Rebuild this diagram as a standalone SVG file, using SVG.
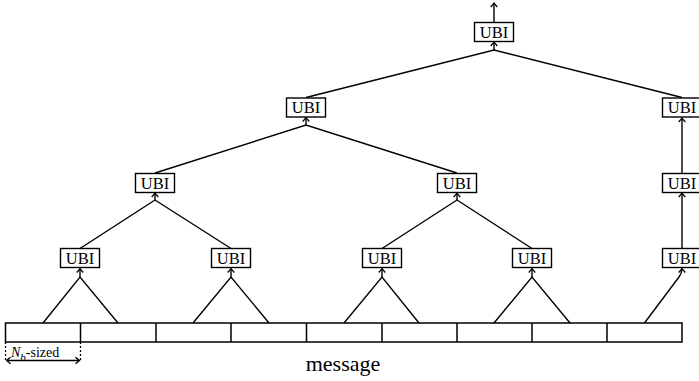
<svg xmlns="http://www.w3.org/2000/svg" width="699" height="381" viewBox="0 0 699 381">
<style>
.box{fill:#fff;stroke:#000;stroke-width:1.4}
.t{font-family:"Liberation Serif",serif;font-size:16.5px;text-anchor:middle;fill:#000}
.e{fill:none;stroke:#000;stroke-width:1.4}
.m{fill:none;stroke:#000;stroke-width:1.5}
</style>
<defs>
<marker id="ah" viewBox="-5 -4 6 8" refX="0" refY="0" markerWidth="6" markerHeight="8" markerUnits="userSpaceOnUse" orient="auto-start-reverse">
<path d="M-4,-3.3 Q-1.2,-0.8 0,0 Q-1.2,0.8 -4,3.3" fill="none" stroke="#000" stroke-width="1.3"/>
</marker>
</defs>
<g id="connectors">
<path class="e" d="M494,22 L494,3" marker-end="url(#ah)"/>
<path class="e" d="M306,97.5 L494,50 L682,97.5"/>
<path class="e" d="M494,50 L494,42" marker-end="url(#ah)"/>
<path class="e" d="M155,173 L306,125 L457,173"/>
<path class="e" d="M306,125 L306,117.5" marker-end="url(#ah)"/>
<path class="e" d="M682,173 L682,118" marker-end="url(#ah)"/>
<path class="e" d="M80,248.5 L155,200 L231,248.5"/>
<path class="e" d="M155,200 L155,193" marker-end="url(#ah)"/>
<path class="e" d="M382,248.5 L457,200 L532,248.5"/>
<path class="e" d="M457,200 L457,193" marker-end="url(#ah)"/>
<path class="e" d="M682,248.5 L682,193" marker-end="url(#ah)"/>
<path class="e" d="M43,323 L80,277 L118,323"/>
<path class="e" d="M80,277 L80,268.5" marker-end="url(#ah)"/>
<path class="e" d="M193,323 L231,277 L269,323"/>
<path class="e" d="M231,277 L231,268.5" marker-end="url(#ah)"/>
<path class="e" d="M344,323 L382,277 L419,323"/>
<path class="e" d="M382,277 L382,268.5" marker-end="url(#ah)"/>
<path class="e" d="M494,323 L532,277 L570,323"/>
<path class="e" d="M532,277 L532,268.5" marker-end="url(#ah)"/>
<path class="e" d="M644.5,323 L679,277 Q682,273 682,268.5" marker-end="url(#ah)"/>
</g>
<g id="ubi-top"><rect class="box" x="474.5" y="22.5" width="39" height="19"/><text class="t" x="494" y="37.5">UBI</text></g>
<g id="ubi-l3a"><rect class="box" x="286.5" y="98" width="39" height="19"/><text class="t" x="306" y="113">UBI</text></g>
<g id="ubi-l3b"><rect class="box" x="662.5" y="98" width="39" height="19"/><text class="t" x="682" y="113">UBI</text></g>
<g id="ubi-l2a"><rect class="box" x="135.5" y="173.5" width="39" height="19"/><text class="t" x="155" y="188.5">UBI</text></g>
<g id="ubi-l2b"><rect class="box" x="437.5" y="173.5" width="39" height="19"/><text class="t" x="457" y="188.5">UBI</text></g>
<g id="ubi-l2c"><rect class="box" x="662.5" y="173.5" width="39" height="19"/><text class="t" x="682" y="188.5">UBI</text></g>
<g id="ubi-l1a"><rect class="box" x="60.5" y="248.5" width="39" height="19"/><text class="t" x="80" y="263.5">UBI</text></g>
<g id="ubi-l1b"><rect class="box" x="211.5" y="248.5" width="39" height="19"/><text class="t" x="231" y="263.5">UBI</text></g>
<g id="ubi-l1c"><rect class="box" x="362.5" y="248.5" width="39" height="19"/><text class="t" x="382" y="263.5">UBI</text></g>
<g id="ubi-l1d"><rect class="box" x="512.5" y="248.5" width="39" height="19"/><text class="t" x="532" y="263.5">UBI</text></g>
<g id="ubi-l1e"><rect class="box" x="662.5" y="248.5" width="39" height="19"/><text class="t" x="682" y="263.5">UBI</text></g>
<g id="message">
<rect class="m" x="5.5" y="323" width="676.5" height="19" fill="#fff"/>
<path class="m" d="M80.5,323V342M156,323V342M231,323V342M306.5,323V342M382,323V342M457,323V342M532,323V342M607,323V342"/>
<path d="M5.5,342V361M80.5,342V361" stroke="#000" stroke-width="1.3" stroke-dasharray="2,2" fill="none"/>
<path class="e" d="M6.5,360.5 L79.5,360.5" marker-start="url(#ah)" marker-end="url(#ah)"/>
<text x="11" y="357" style="font-family:'Liberation Serif',serif;font-size:14px;fill:#000"><tspan font-style="italic">N</tspan><tspan font-style="italic" font-size="11" dy="4">b</tspan><tspan dy="-4">-sized</tspan></text>
<text x="343" y="371" style="font-family:'Liberation Serif',serif;font-size:22px;text-anchor:middle;fill:#000">message</text>
</g>
</svg>
